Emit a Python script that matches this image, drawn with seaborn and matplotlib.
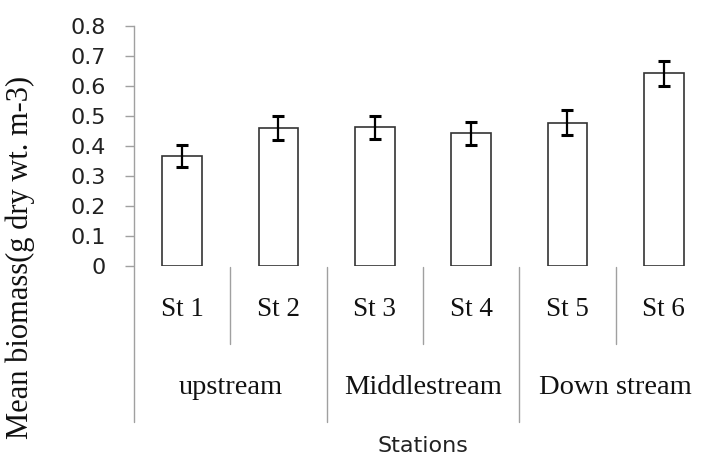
import numpy as np
import matplotlib
matplotlib.use("Agg")
import matplotlib.pyplot as plt
import seaborn as sns

# values
stations = ["St 1", "St 2", "St 3", "St 4", "St 5", "St 6"]
mean_biomass = [0.366, 0.458, 0.461, 0.442, 0.477, 0.641]
std_err = [0.036, 0.040, 0.038, 0.038, 0.041, 0.041]
groups = ["upstream", "Middlestream", "Down stream"]
group_size = 2
y_ticks = [0, 0.1, 0.2, 0.3, 0.4, 0.5, 0.6, 0.7, 0.8]

sns.set_theme(style="white")
plt.rcParams['font.family'] = ['DejaVu Sans']

fig = plt.figure(figsize=(7.04, 4.57), dpi=100, facecolor="white")
# the category axis runs a little past the right edge, as in the reference
ax = fig.add_axes([0.1903, 0.418, 0.821, 0.526])

sns.barplot(x=stations, y=mean_biomass, ax=ax, color="white",
            edgecolor="#333333", linewidth=1.2, width=0.41, errorbar=None)
ax.errorbar(x=np.arange(len(stations)), y=mean_biomass, yerr=std_err,
            fmt="none", ecolor="black", elinewidth=1.6, capsize=4.6,
            capthick=2.2, zorder=5)

ax.set_xlim(-0.5, len(stations) - 0.5)
ax.set_ylim(0, 0.8)
ax.set_yticks(y_ticks)
ax.set_yticklabels([f"{t:g}" for t in y_ticks], fontsize=16, color="#222222")
ax.tick_params(axis="y", left=True, length=6.5, width=1, color="#a0a0a0", pad=13.5)
ax.set_xticks([])
ax.set_xlabel("")
ax.set_ylabel("")

for side in ["top", "right", "bottom"]:
    ax.spines[side].set_visible(False)
ax.spines["left"].set_color("#a0a0a0")
ax.spines["left"].set_linewidth(1)

trans = ax.get_xaxis_transform()
serif = ["Liberation Serif", "DejaVu Serif"]
line_kw = dict(color="#a0a0a0", lw=1, transform=trans, clip_on=False)

# station names and the short separators between stations of a group
for i, name in enumerate(stations):
    ax.text(i, -0.183, name, transform=trans, ha="center", va="center",
            fontsize=19.5, family=serif, color="#111111")
    if i % group_size == group_size - 1:
        ax.plot([i - 0.5, i - 0.5], [-0.003, -0.324], **line_kw)

# group names and the long separators
for g, name in enumerate(groups):
    left = g * group_size - 0.5
    ax.text(left + group_size / 2, -0.507, name, transform=trans, ha="center",
            va="center", fontsize=20.5, family=serif, color="#111111")
    ax.plot([left, left], [-0.003, -0.649], **line_kw)
ax.plot([len(stations) - 0.5] * 2, [-0.003, -0.649], **line_kw)

ax.text((len(stations) - 1) / 2, -0.75, "Stations", transform=trans,
        ha="center", va="center", fontsize=16, color="#222222")

fig.text(20 / 704, 1 - 257 / 457, "Mean biomass(g dry wt. m-3)", rotation=90,
         ha="center", va="center", fontsize=22, family=serif, color="#111111")

fig.savefig("out.png", dpi=100, facecolor="white")
